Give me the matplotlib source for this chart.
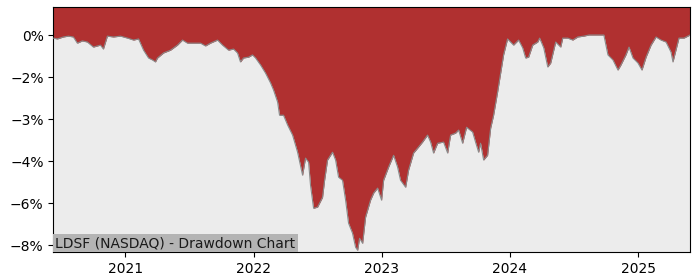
import matplotlib
matplotlib.use("Agg")
import matplotlib.dates as mdates
import matplotlib.pyplot as plt
import numpy as np
import pandas as pd
from matplotlib.ticker import MultipleLocator, PercentFormatter

TITLE = "LDSF (NASDAQ) - Drawdown Chart"

# time as fractional years, drawdown in percent
years = [
    2020.438, 2020.469, 2020.516, 2020.555, 2020.594, 2020.625, 2020.664, 2020.703,
    2020.750, 2020.805, 2020.828, 2020.859, 2020.906, 2020.961, 2021.016, 2021.063,
    2021.102, 2021.141, 2021.180, 2021.211, 2021.234, 2021.250, 2021.297, 2021.352,
    2021.406, 2021.445, 2021.484, 2021.547, 2021.586, 2021.625, 2021.664, 2021.719,
    2021.758, 2021.805, 2021.844, 2021.875, 2021.898, 2021.922, 2021.961, 2021.992,
    2022.016, 2022.055, 2022.094, 2022.133, 2022.156, 2022.188, 2022.203, 2022.234,
    2022.266, 2022.305, 2022.344, 2022.383, 2022.406, 2022.430, 2022.445, 2022.469,
    2022.500, 2022.539, 2022.555, 2022.578, 2022.617, 2022.641, 2022.664, 2022.695,
    2022.719, 2022.742, 2022.773, 2022.797, 2022.813, 2022.828, 2022.852, 2022.875,
    2022.914, 2022.938, 2022.969, 2023.000, 2023.016, 2023.055, 2023.094, 2023.125,
    2023.148, 2023.188, 2023.211, 2023.250, 2023.281, 2023.320, 2023.359, 2023.383,
    2023.406, 2023.438, 2023.484, 2023.516, 2023.539, 2023.578, 2023.602, 2023.633,
    2023.664, 2023.711, 2023.734, 2023.758, 2023.773, 2023.797, 2023.828, 2023.852,
    2023.875, 2023.906, 2023.930, 2023.953, 2023.984, 2024.008, 2024.031, 2024.070,
    2024.102, 2024.125, 2024.148, 2024.180, 2024.219, 2024.234, 2024.266, 2024.297,
    2024.320, 2024.359, 2024.398, 2024.414, 2024.453, 2024.492, 2024.531, 2024.578,
    2024.617, 2024.672, 2024.734, 2024.766, 2024.805, 2024.844, 2024.867, 2024.906,
    2024.930, 2024.961, 2025.000, 2025.031, 2025.063, 2025.102, 2025.141, 2025.180,
    2025.219, 2025.258, 2025.273, 2025.320, 2025.359, 2025.406,
]
drawdown = [
    -0.11, -0.14, -0.07, -0.04, -0.07, -0.29, -0.21, -0.25,
    -0.43, -0.36, -0.50, -0.04, -0.07, -0.04, -0.11, -0.18,
    -0.14, -0.54, -0.82, -0.89, -0.96, -0.82, -0.64, -0.54,
    -0.36, -0.18, -0.29, -0.29, -0.29, -0.39, -0.29, -0.18,
    -0.36, -0.54, -0.50, -0.64, -0.96, -0.82, -0.79, -0.71,
    -0.82, -1.07, -1.36, -1.71, -1.96, -2.39, -2.86, -2.86,
    -3.21, -3.57, -4.18, -5.00, -4.39, -4.54, -5.36, -6.18,
    -6.14, -5.79, -5.18, -4.46, -4.18, -4.46, -5.07, -5.18,
    -5.89, -6.71, -7.07, -7.57, -7.68, -7.25, -7.43, -6.50,
    -5.89, -5.64, -5.46, -5.89, -5.18, -4.71, -4.29, -4.71,
    -5.18, -5.43, -4.82, -4.21, -4.04, -3.82, -3.57, -3.82,
    -4.21, -3.86, -3.82, -4.21, -3.57, -3.50, -3.39, -3.86,
    -3.29, -3.46, -3.82, -4.18, -3.86, -4.46, -4.29, -3.32,
    -2.86, -2.04, -1.36, -0.71, -0.14, -0.25, -0.36, -0.18,
    -0.46, -0.82, -0.79, -0.36, -0.25, -0.11, -0.46, -1.14,
    -1.00, -0.25, -0.43, -0.11, -0.11, -0.18, -0.07, -0.04,
    0.00, 0.00, 0.00, -0.71, -0.89, -1.25, -1.07, -0.71,
    -0.43, -0.82, -1.00, -1.25, -0.79, -0.36, -0.07, -0.18,
    -0.25, -0.61, -0.96, -0.11, -0.11, 0.00,
]

Y_TOP = 1.0
Y_BOTTOM = -7.75


def to_dates(fy):
    out = []
    for v in fy:
        yr = int(np.floor(v))
        start = pd.Timestamp(year=yr, month=1, day=1)
        length = (pd.Timestamp(year=yr + 1, month=1, day=1) - start).days
        out.append(start + pd.Timedelta(days=(v - yr) * length))
    return out


dates = to_dates(years)
dd = np.array(drawdown)

fig = plt.figure(figsize=(7, 2.8), dpi=100)
ax = fig.add_axes([0.0762, 0.099, 0.9095, 0.876])
ax.set_facecolor("#ececec")

ax.fill_between(dates, dd, Y_TOP, color="#b03030", linewidth=0, zorder=2)
ax.plot(dates, dd, color="#8a8a8a", linewidth=0.8, zorder=3)

ax.set_xlim(dates[0], dates[-1])
ax.set_ylim(Y_BOTTOM, Y_TOP)

ax.yaxis.set_major_locator(MultipleLocator(1.5))
ax.yaxis.set_major_formatter(PercentFormatter(xmax=100, decimals=0))
ax.xaxis.set_major_locator(mdates.YearLocator())
ax.xaxis.set_major_formatter(mdates.DateFormatter("%Y"))

ax.annotate(
    TITLE,
    xy=(0, 0),
    xycoords="axes fraction",
    xytext=(1.5, 1.5),
    textcoords="offset points",
    ha="left",
    va="bottom",
    fontsize=10,
    color="#1a1a1a",
    bbox=dict(boxstyle="square,pad=0.15", facecolor="#b4b4b4", edgecolor="none"),
    zorder=5,
)

fig.savefig("out.png", dpi=100)
